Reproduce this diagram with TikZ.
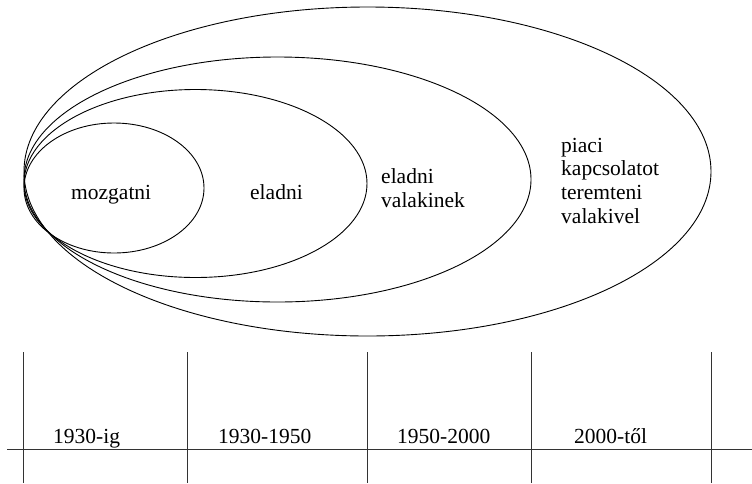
\documentclass[tikz,border=0pt]{standalone}
\usepackage{fontspec}
\newfontfamily\labelfont{LiberationSerif}[Extension=.ttf,UprightFont=*-Regular]
\begin{document}
\begin{tikzpicture}[x=1pt,y=-1pt,
  ring/.style={draw=black,line width=0.9pt},
  rule/.style={draw=black!80,line width=1pt},
  lbl/.style={inner sep=0pt,anchor=base west,font=\labelfont\fontsize{21.5}{24}\selectfont}]
  \useasboundingbox (0,0) rectangle (752,483);

  % nested ellipses, all touching on the left
  \draw[ring] (367.5,171.5) ellipse [x radius=343.5pt, y radius=164.5pt];
  \draw[ring] (277.5,179.5) ellipse [x radius=253.5pt, y radius=122.5pt];
  \draw[ring] (195.5,183.5) ellipse [x radius=171.5pt, y radius=94pt];
  \draw[ring] (114,188) ellipse [x radius=90pt, y radius=65pt];

  % labels inside the ellipses
  \node[lbl] (m) at (71,199) {mozgatni};
  \node[lbl] (e) at (250,199) {eladni};
  \node[lbl] (ev1) at (381,183) {eladni};
  \node[lbl] (ev2) at (381,207) {valakinek};
  \node[lbl] (p1) at (561,152) {piaci};
  \node[lbl] (p2) at (561,175.5) {kapcsolatot};
  \node[lbl] (p3) at (561,199.5) {teremteni};
  \node[lbl] (p4) at (561,223) {valakivel};

  % time axis
  \coordinate (ha) at (7,449);
  \coordinate (hb) at (752,449);
  \draw[rule] (ha) -- (hb);
  \foreach \x/\n in {23.7/t0,187.3/t1,367.3/t2,531/t3,711/t4}{
    \coordinate (\n a) at (\x,352);
    \coordinate (\n b) at (\x,483);
    \draw[rule] (\n a) -- (\n b);
  }

  % period labels
  \node[lbl] (y1) at (53,443) {1930-ig};
  \node[lbl] (y2) at (218,443) {1930-1950};
  \node[lbl] (y3) at (397,443) {1950-2000};
  \node[lbl] (y4) at (574,443) {2000-től};
\end{tikzpicture}
\end{document}
